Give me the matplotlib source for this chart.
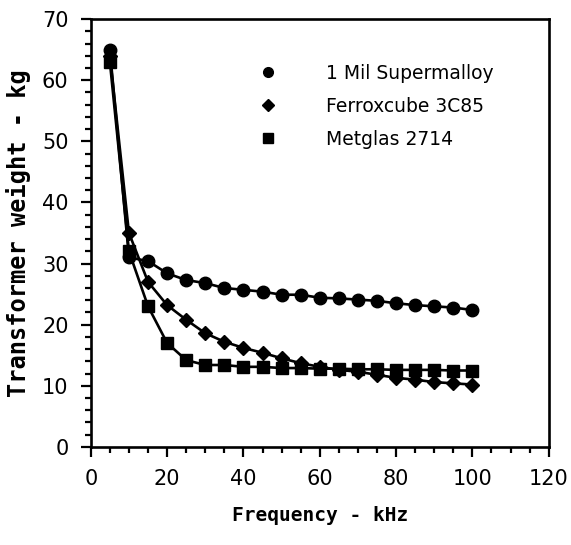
import numpy as np
import matplotlib
matplotlib.use("Agg")
import matplotlib.pyplot as plt
from matplotlib.lines import Line2D
from matplotlib.ticker import MultipleLocator

# Data
freq = [5, 10, 15, 20, 25, 30, 35, 40, 45, 50, 55, 60, 65, 70, 75, 80, 85, 90, 95, 100]
supermalloy = [65, 31, 30.4, 28.4, 27.3, 26.8, 26.0, 25.7, 25.4, 24.9,
               24.9, 24.4, 24.3, 24.1, 23.9, 23.5, 23.2, 23.0, 22.8, 22.4]
ferroxcube = [64, 35, 27.0, 23.2, 20.8, 18.6, 17.2, 16.2, 15.4, 14.5,
              13.7, 13.1, 12.6, 12.3, 11.8, 11.3, 11.0, 10.6, 10.4, 10.2]
metglas = [63, 32, 23.0, 17.0, 14.2, 13.4, 13.4, 13.1, 13.1, 12.9,
           12.9, 12.8, 12.8, 12.7, 12.7, 12.6, 12.6, 12.6, 12.5, 12.5]
series_names = ["1 Mil Supermalloy", "Ferroxcube 3C85", "Metglas 2714"]
x_ticks = [0, 20, 40, 60, 80, 100, 120]
y_ticks = [0, 10, 20, 30, 40, 50, 60, 70]

fig = plt.figure(figsize=(5.71, 5.45), dpi=100)
ax = fig.add_axes([0.159, 0.180, 0.802, 0.785])

markers = ["o", "D", "s"]
sizes = [9, 7, 8.5]
for ys, m, ms in zip([supermalloy, ferroxcube, metglas], markers, sizes):
    ax.plot(freq, ys, color="black", lw=1.9, marker=m, ms=ms,
            markerfacecolor="black", markeredgecolor="black")

ax.set_xlim(0, 120)
ax.set_ylim(0, 70)
ax.set_xticks(x_ticks)
ax.set_yticks(y_ticks)
ax.xaxis.set_minor_locator(MultipleLocator(5))
ax.yaxis.set_minor_locator(MultipleLocator(2))
ax.tick_params(which="major", direction="out", length=7, width=1.6,
               labelsize=15, pad=9)
ax.tick_params(which="minor", direction="out", length=4, width=1.6)
for s in ax.spines.values():
    s.set_linewidth(1.9)

ax.set_xlabel("Frequency - kHz", family="DejaVu Sans Mono", weight="bold",
              fontsize=14, labelpad=12)
ax.set_ylabel("Transformer weight - kg", family="DejaVu Sans Mono",
              weight="bold", fontsize=17, labelpad=8)

handles = [Line2D([], [], color="black", marker=m, ms=ms, linestyle="none")
           for m, ms in zip(markers, [7, 6, 7])]
ax.legend(handles, series_names, loc="upper left", bbox_to_anchor=(0.33, 0.935),
          frameon=False, fontsize=13.5, handlelength=1.0, handletextpad=2.6,
          labelspacing=0.75)

fig.savefig("out.png", dpi=100)
